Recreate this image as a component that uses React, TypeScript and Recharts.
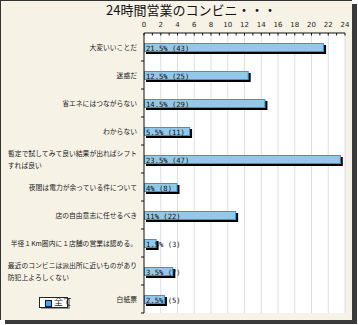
import { BarChart, Bar, XAxis, YAxis, CartesianGrid, LabelList } from 'recharts'

const categories = [
  '大変いいことだ',
  '迷惑だ',
  '省エネにはつながらない',
  'わからない',
  '暫定で試してみて良い結果が出ればシフト\nすれば良い',
  '夜間は電力が余っている件について',
  '店の自由意志に任せるべき',
  '半径１Km圏内に１店舗の営業は認める。',
  '最近のコンビニは派出所に近いものがあり\n防犯上よろしくない',
  '白紙票',
]
const percents = [21.5, 12.5, 14.5, 5.5, 23.5, 4, 11, 1.5, 3.5, 2.5]
const counts = [43, 25, 29, 11, 47, 8, 22, 3, 7, 5]
const xTicks = [0, 1, 2, 3, 4, 5, 6, 7, 8, 9, 10, 11, 12, 13, 14, 15, 16, 17, 18, 19, 20, 21, 22, 23, 24]
const gridTicks = [2, 4, 6, 8, 10, 12, 14, 16, 18, 20, 22, 24]

const data = categories.map((name, i) => ({
  name,
  value: percents[i],
  label: `${percents[i]}% (${counts[i]})`,
}))

const W = 352
const H = 320
const PLOT_TOP = 33
const PLOT_BOTTOM = 313
const PLOT_LEFT = 144
const BAND = (PLOT_BOTTOM - PLOT_TOP) / categories.length
const JP = '"Noto Sans CJK JP", sans-serif'
const FS = 6.8

function CategoryTick({ x, y, payload }: any) {
  const lines = String(payload.value).split('\n')
  const tickY = y + BAND / 2
  return (
    <g>
      <line x1={PLOT_LEFT - 3} x2={PLOT_LEFT} y1={tickY} y2={tickY} stroke="#111" />
      {lines.length === 1 ? (
        <text x={x} y={y} textAnchor="end" dominantBaseline="central" fontSize={FS} fontFamily={JP} fill="#222">
          {lines[0]}
        </text>
      ) : (
        <>
          <text x={x} y={y - 6} textAnchor="end" dominantBaseline="central" fontSize={FS} fontFamily={JP} fill="#222">
            {lines[0]}
          </text>
          <text x={x - lines[0].length * FS} y={y + 6} textAnchor="start" dominantBaseline="central" fontSize={FS} fontFamily={JP} fill="#222">
            {lines[1]}
          </text>
        </>
      )}
    </g>
  )
}

function ValueTick({ x, payload }: any) {
  const v = payload.value
  return (
    <g>
      <line x1={x} x2={x} y1={PLOT_TOP} y2={PLOT_TOP + 2.5} stroke="#111" />
      {v % 2 === 0 && (
        <text x={x} y={PLOT_TOP - 6} textAnchor="middle" fontSize={7} fontFamily="DejaVu Sans, sans-serif" fill="#222">
          {v}
        </text>
      )}
    </g>
  )
}

function BevelBar({ x, y, width, height }: any) {
  if (!width) return null
  return (
    <g>
      <rect x={x + 2} y={y + 2} width={width} height={height} fill="#000" />
      <rect x={x + 0.5} y={y + 0.5} width={width - 1} height={height - 1} fill="#95c7e7" stroke="#1d9ff0" />
    </g>
  )
}

function BarText({ x, y, height, value }: any) {
  return (
    <text x={x + 2} y={y + height / 2 + 0.5} dominantBaseline="central" fontSize={7.2} fontFamily="DejaVu Sans Mono, monospace" fill="#111">
      {value}
    </text>
  )
}

export default function App() {
  return (
    <div style={{ position: 'absolute', left: 0, top: 0, width: 358, height: 325, background: '#fff' }}>
      <div
        style={{
          position: 'absolute',
          left: 0,
          top: 0,
          width: W,
          height: H,
          boxSizing: 'border-box',
          background: '#f6f2e6',
          borderTop: '1px solid #333',
          borderLeft: '1px solid #333',
          boxShadow: '5px 4px 0 #3a3a3a',
        }}
      />
      <div style={{ position: 'absolute', left: 0, top: 0 }}>
        <BarChart
          width={W}
          height={H}
          data={data}
          layout="vertical"
          margin={{ top: 8, right: 7, bottom: 7, left: 0 }}
          barSize={9}
        >
          <CartesianGrid
            horizontal={false}
            stroke="#dedede"
            fill="#fff"
            verticalCoordinatesGenerator={({ offset }: any) =>
              gridTicks.map((v) => offset.left + (v / 24) * offset.width)
            }
          />
          <XAxis
            type="number"
            orientation="top"
            domain={[0, 24]}
            ticks={xTicks}
            interval={0}
            height={25}
            axisLine={{ stroke: '#111' }}
            tickLine={false}
            tick={<ValueTick />}
          />
          <YAxis
            type="category"
            dataKey="name"
            width={144}
            interval={0}
            axisLine={{ stroke: '#111' }}
            tickLine={false}
            tickSize={0}
            tickMargin={7}
            tick={<CategoryTick />}
          />
          <Bar dataKey="value" shape={<BevelBar />} isAnimationActive={false}>
            <LabelList dataKey="label" content={<BarText />} />
          </Bar>
        </BarChart>
      </div>
      <div
        style={{
          position: 'absolute',
          left: 106,
          top: 1,
          fontFamily: JP,
          fontSize: 13,
          lineHeight: '18px',
          color: '#111',
          whiteSpace: 'nowrap',
        }}
      >
        24時間営業のコンビニ・・・
      </div>
      <div
        style={{
          position: 'absolute',
          left: 39,
          top: 297,
          width: 29,
          height: 11,
          boxSizing: 'border-box',
          border: '1px solid #222',
          background: '#fff',
          boxShadow: '2px 1px 0 #999',
        }}
      >
        <div
          style={{
            position: 'absolute',
            left: 5,
            top: 1.5,
            width: 7,
            height: 7,
            boxSizing: 'border-box',
            background: '#3ea6ee',
            border: '1px solid #113',
          }}
        />
        <div
          style={{
            position: 'absolute',
            left: 14,
            top: -2,
            fontFamily: JP,
            fontSize: 9,
            lineHeight: '12px',
            color: '#222',
            whiteSpace: 'nowrap',
          }}
        >
          全て
        </div>
      </div>
    </div>
  )
}
